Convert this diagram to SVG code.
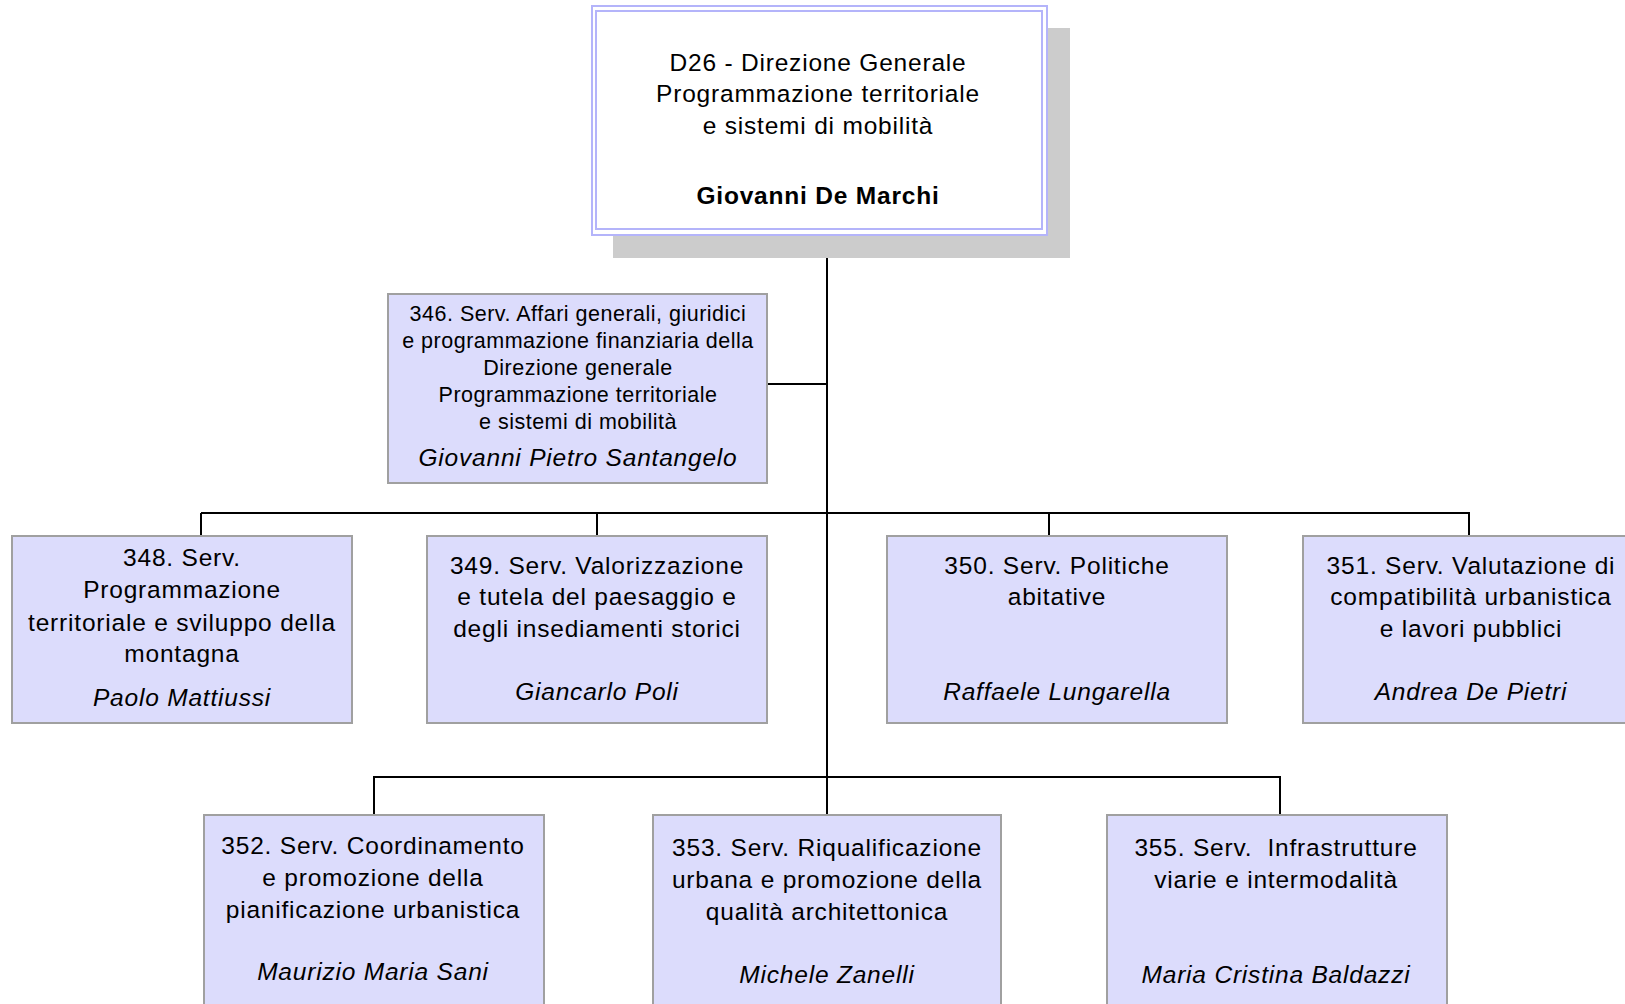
<svg xmlns="http://www.w3.org/2000/svg" width="1625" height="1004" viewBox="0 0 1625 1004">
<style>
  .box { fill: #dcdcfc; stroke: #a0a0a0; stroke-width: 2; }
  .t { font-family: "Liberation Sans", Arial, sans-serif; font-size: 24.5px; letter-spacing: 0.8px; fill: #000; text-anchor: middle; }
  .n { font-style: italic; }
  .b { font-weight: bold; letter-spacing: 0.8px; }
  .s { font-size: 21.5px; letter-spacing: 0.5px; }
  .c { stroke: #000; stroke-width: 2; fill: none; }
</style>
<rect width="1625" height="1004" fill="#fff"/>
<g id="connectors">
  <line class="c" x1="827" y1="235" x2="827" y2="815"/>
  <line class="c" x1="767" y1="384" x2="827" y2="384"/>
  <line class="c" x1="201" y1="513" x2="1469" y2="513"/>
  <line class="c" x1="201" y1="513" x2="201" y2="536"/>
  <line class="c" x1="597" y1="513" x2="597" y2="536"/>
  <line class="c" x1="1049" y1="513" x2="1049" y2="536"/>
  <line class="c" x1="1469" y1="512" x2="1469" y2="536"/>
  <line class="c" x1="374" y1="777" x2="1280" y2="777"/>
  <line class="c" x1="374" y1="776" x2="374" y2="815"/>
  <line class="c" x1="1280" y1="776" x2="1280" y2="815"/>
</g>
<g id="d26">
  <rect x="613" y="28" width="457" height="230" fill="#cccccc"/>
  <rect x="592" y="6" width="455" height="229" fill="#fff" stroke="#b4b4fa" stroke-width="2"/>
  <rect x="596" y="11" width="446" height="218" fill="none" stroke="#b4b4fa" stroke-width="2"/>
  <text class="t" x="818" y="71">D26 - Direzione Generale</text>
  <text class="t" x="818" y="102">Programmazione territoriale</text>
  <text class="t" x="818" y="134">e sistemi di mobilità</text>
  <text class="t b" x="818" y="204">Giovanni De Marchi</text>
</g>
<g id="s346">
  <rect class="box" x="388" y="294" width="379" height="189"/>
  <text class="t s" x="578" y="321">346. Serv. Affari generali, giuridici</text>
  <text class="t s" x="578" y="348">e programmazione finanziaria della</text>
  <text class="t s" x="578" y="375">Direzione generale</text>
  <text class="t s" x="578" y="402">Programmazione territoriale</text>
  <text class="t s" x="578" y="429">e sistemi di mobilità</text>
  <text class="t n" x="578" y="466">Giovanni Pietro Santangelo</text>
</g>
<g id="s348">
  <rect class="box" x="12" y="536" width="340" height="187"/>
  <text class="t" x="182" y="566">348. Serv.</text>
  <text class="t" x="182" y="598">Programmazione</text>
  <text class="t" x="182" y="631">territoriale e sviluppo della</text>
  <text class="t" x="182" y="662">montagna</text>
  <text class="t n" x="182" y="706">Paolo Mattiussi</text>
</g>
<g id="s349">
  <rect class="box" x="427" y="536" width="340" height="187"/>
  <text class="t" x="597" y="574">349. Serv. Valorizzazione</text>
  <text class="t" x="597" y="605">e tutela del paesaggio e</text>
  <text class="t" x="597" y="637">degli insediamenti storici</text>
  <text class="t n" x="597" y="700">Giancarlo Poli</text>
</g>
<g id="s350">
  <rect class="box" x="887" y="536" width="340" height="187"/>
  <text class="t" x="1057" y="574">350. Serv. Politiche</text>
  <text class="t" x="1057" y="605">abitative</text>
  <text class="t n" x="1057" y="700">Raffaele Lungarella</text>
</g>
<g id="s351">
  <rect class="box" x="1303" y="536" width="340" height="187"/>
  <text class="t" x="1471" y="574">351. Serv. Valutazione di</text>
  <text class="t" x="1471" y="605">compatibilità urbanistica</text>
  <text class="t" x="1471" y="637">e lavori pubblici</text>
  <text class="t n" x="1471" y="700">Andrea De Pietri</text>
</g>
<g id="s352">
  <rect class="box" x="204" y="815" width="340" height="200"/>
  <text class="t" x="373" y="854">352. Serv. Coordinamento</text>
  <text class="t" x="373" y="886">e promozione della</text>
  <text class="t" x="373" y="918">pianificazione urbanistica</text>
  <text class="t n" x="373" y="980">Maurizio Maria Sani</text>
</g>
<g id="s353">
  <rect class="box" x="653" y="815" width="348" height="200"/>
  <text class="t" x="827" y="856">353. Serv. Riqualificazione</text>
  <text class="t" x="827" y="888">urbana e promozione della</text>
  <text class="t" x="827" y="920">qualità architettonica</text>
  <text class="t n" x="827" y="983">Michele Zanelli</text>
</g>
<g id="s355">
  <rect class="box" x="1107" y="815" width="340" height="200"/>
  <text class="t" x="1276" y="856" xml:space="preserve">355. Serv.  Infrastrutture</text>
  <text class="t" x="1276" y="888">viarie e intermodalità</text>
  <text class="t n" x="1276" y="983">Maria Cristina Baldazzi</text>
</g>
</svg>
